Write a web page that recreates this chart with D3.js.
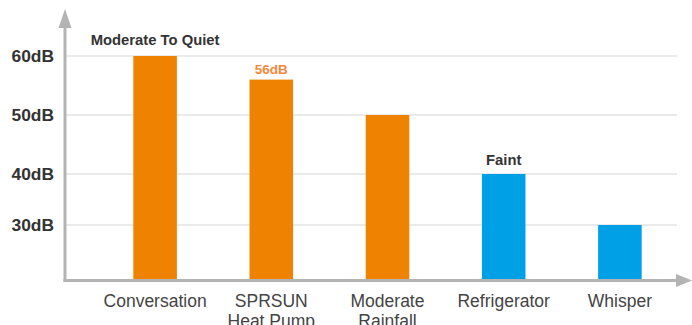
<!DOCTYPE html>
<html><head><meta charset="utf-8">
<script src="https://cdn.jsdelivr.net/npm/d3@7"></script>
<style>body{margin:0;background:#fff}svg{display:block}</style>
</head><body>
<svg id="c" width="692" height="325"></svg>
<script>
const categories = [["Conversation"], ["SPRSUN", "Heat Pump"], ["Moderate", "Rainfall"], ["Refrigerator"], ["Whisper"]];
const values = [60, 56, 50, 40, 30];
const barColors = ["#EF8200", "#EF8200", "#EF8200", "#00A0E6", "#00A0E6"];
const annotations = ["Moderate To Quiet", "56dB", "", "Faint", ""];
const annotationColors = ["#333333", "#F4893A", "#333333", "#333333", "#333333"];
const yTicks = [30, 40, 50, 60];
const yTickLabels = ["30dB", "40dB", "50dB", "60dB"];

const svg = d3.select("#c");
const font = "'Liberation Sans', Arial, Helvetica, sans-serif";
const x0 = 65, yBase = 280.5;

const x = d3.scaleBand().domain(d3.range(categories.length)).range([97, 678])
  .paddingInner(0.625).paddingOuter(0.3125);
// piecewise scale matching the reference's uneven tick spacing
const y = d3.scaleLinear().domain([20, 30, 40, 50, 60]).range([yBase, 225, 174, 115, 56]);

// gridlines
svg.append("g").selectAll("line").data(yTicks).join("line")
  .attr("x1", x0).attr("x2", 677)
  .attr("y1", d => y(d)).attr("y2", d => y(d))
  .attr("stroke", "#e3e3e3").attr("stroke-width", 1.5);

// bars
svg.append("g").selectAll("rect").data(values).join("rect")
  .attr("x", (d, i) => x(i)).attr("width", x.bandwidth())
  .attr("y", d => y(d)).attr("height", d => yBase - y(d))
  .attr("fill", (d, i) => barColors[i]);

// axes
const axisColor = "#b3b3b3";
svg.append("line").attr("x1", x0).attr("x2", x0).attr("y1", 24).attr("y2", yBase + 1.5)
  .attr("stroke", axisColor).attr("stroke-width", 3);
svg.append("line").attr("x1", x0 - 1.5).attr("x2", 678).attr("y1", yBase).attr("y2", yBase)
  .attr("stroke", axisColor).attr("stroke-width", 3);
svg.append("path").attr("d", `M${x0},9 L${x0 - 6.5},28 L${x0 + 6.5},28 Z`).attr("fill", axisColor);
svg.append("path").attr("d", `M692,${yBase} L676,${yBase - 6.5} L676,${yBase + 6.5} Z`).attr("fill", axisColor);

// y tick labels
svg.append("g").selectAll("text").data(yTicks).join("text")
  .attr("x", 54).attr("y", d => y(d)).attr("dy", "0.36em")
  .attr("text-anchor", "end").attr("font-family", font).attr("font-weight", "bold")
  .attr("font-size", 17.4).attr("fill", "#333")
  .text((d, i) => yTickLabels[i]);

// x labels
const xl = svg.append("g").selectAll("text").data(categories).join("text")
  .attr("x", (d, i) => x(i) + x.bandwidth() / 2).attr("y", 307)
  .attr("text-anchor", "middle").attr("font-family", font).attr("font-size", 17.5).attr("fill", "#444");
xl.selectAll("tspan").data(d => d).join("tspan")
  .attr("x", function () { return d3.select(this.parentNode).attr("x"); })
  .attr("dy", (d, i) => i === 0 ? 0 : 19.5).text(d => d);

// annotations
const annGap = [11, 5.5, 9, 9, 9];
const annSize = [14.8, 13.5, 14.8, 14.8, 14.8];
svg.append("g").selectAll("text").data(annotations).join("text")
  .attr("x", (d, i) => x(i) + x.bandwidth() / 2).attr("y", (d, i) => y(values[i]) - annGap[i])
  .attr("text-anchor", "middle").attr("font-family", font).attr("font-weight", "bold")
  .attr("font-size", (d, i) => annSize[i]).attr("fill", (d, i) => annotationColors[i])
  .text(d => d);
</script>
</body></html>
